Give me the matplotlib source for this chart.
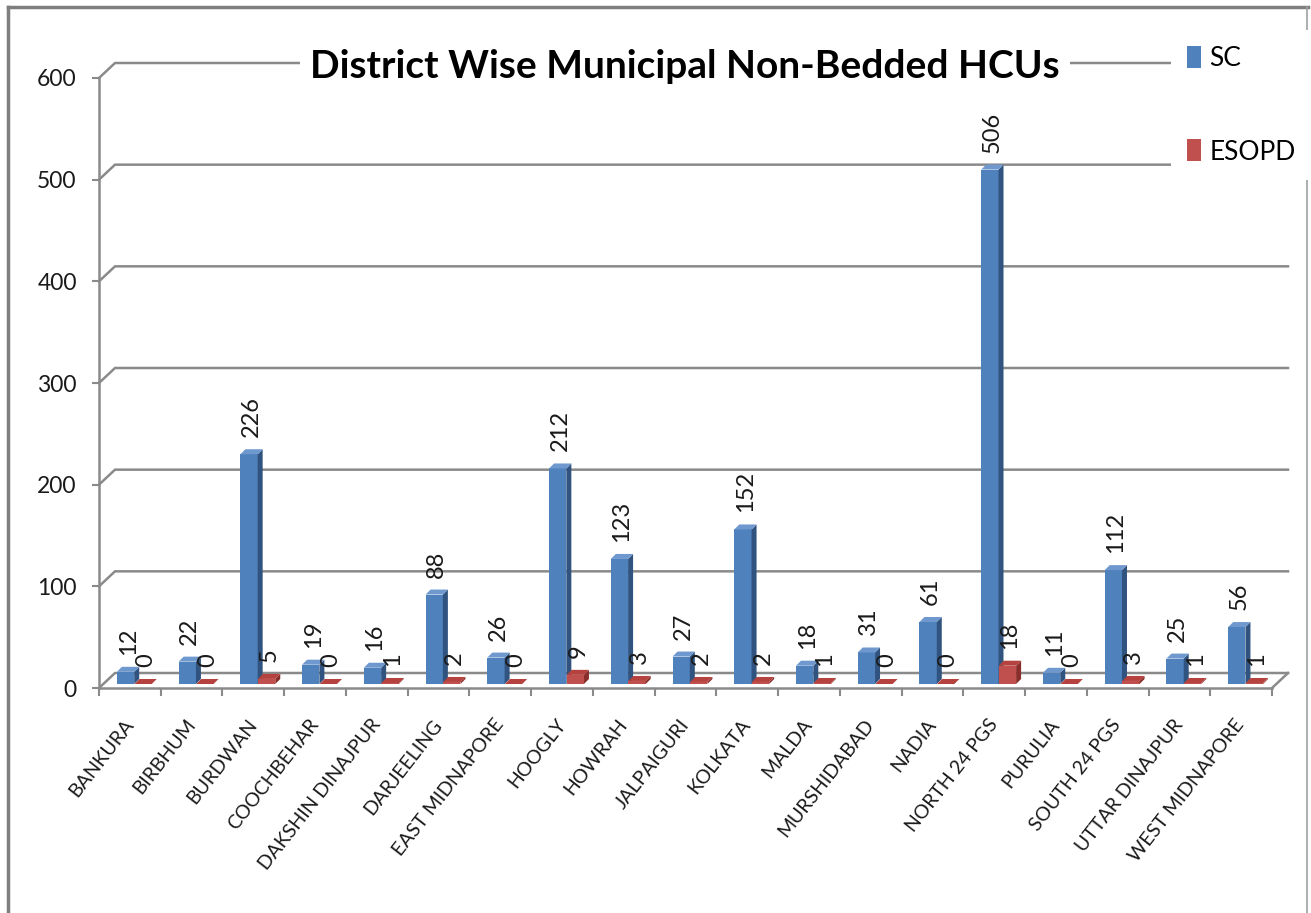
import numpy as np
import matplotlib
matplotlib.use("Agg")
import matplotlib.pyplot as plt
from matplotlib.patches import Polygon, Patch
from matplotlib.lines import Line2D

districts = ["BANKURA", "BIRBHUM", "BURDWAN", "COOCHBEHAR", "DAKSHIN DINAJPUR",
             "DARJEELING", "EAST MIDNAPORE", "HOOGLY", "HOWRAH", "JALPAIGURI",
             "KOLKATA", "MALDA", "MURSHIDABAD", "NADIA", "NORTH 24 PGS",
             "PURULIA", "SOUTH 24 PGS", "UTTAR DINAJPUR", "WEST MIDNAPORE"]
sc = [12, 22, 226, 19, 16, 88, 26, 212, 123, 27, 152, 18, 31, 61, 506, 11, 112, 25, 56]
esopd = [0, 0, 5, 0, 1, 2, 0, 9, 3, 2, 2, 1, 0, 0, 18, 0, 3, 1, 1]
yticks = [0, 100, 200, 300, 400, 500, 600]
title = "District Wise Municipal Non-Bedded HCUs"
series_names = ["SC", "ESOPD"]

FONT = ["Lato", "Liberation Sans", "DejaVu Sans"]

W, H = 1311, 913
fig = plt.figure(figsize=(W / 100, H / 100), dpi=100)
L, R, T, B = 99, 1272, 78, 688
ax = fig.add_axes([L / W, 1 - B / H, (R - L) / W, (B - T) / H])
n = len(districts)
ax.set_xlim(-0.5, n - 0.5)
ax.set_ylim(0, 600)
ax.patch.set_alpha(0)

pxx = (R - L) / n
pxy = (B - T) / 600
wall_dx, wall_dy = 16 / pxx, 15 / pxy
bar_dx, bar_dy = 5 / pxx, 5 / pxy
base = 4 / pxy

gray = "#8a8a8a"
# back wall gridlines with left-wall diagonals
for v in yticks:
    ax.plot([-0.5, -0.5 + wall_dx, n - 0.5 + wall_dx], [v, v + wall_dy, v + wall_dy],
            color=gray, lw=1.8, clip_on=False, zorder=1, solid_joinstyle="miter")
ax.plot([n - 0.5, n - 0.5 + wall_dx], [0, wall_dy], color=gray, lw=1.8, clip_on=False, zorder=1)

x = np.arange(n)
bw = 0.28
lefts = [x - 0.21, x + 0.075]
vals = [sc, esopd]
front = ["#4F81BD", "#C0504D"]
side = ["#31537F", "#8A2E2B"]
top = ["#6E98CE", "#B5423F"]

for s in range(2):
    zo = 3 + s
    ax.bar(lefts[s], vals[s], width=bw, bottom=base, align="edge",
           color=front[s], zorder=zo, clip_on=False, linewidth=0)
    for i in range(n):
        xl = lefts[s][i]
        xr = xl + bw
        h = vals[s][i]
        yt = base + h
        ax.add_patch(Polygon([(xr, base), (xr + bar_dx, base + bar_dy),
                              (xr + bar_dx, yt + bar_dy), (xr, yt)],
                             closed=True, facecolor=side[s], edgecolor="none",
                             zorder=zo, clip_on=False))
        ax.add_patch(Polygon([(xl, yt), (xr, yt), (xr + bar_dx, yt + bar_dy),
                              (xl + bar_dx, yt + bar_dy)],
                             closed=True, facecolor=top[s], edgecolor="none",
                             zorder=zo, clip_on=False))
        ax.annotate(str(h), xy=(xl + bw / 2 + bar_dx / 2, yt + bar_dy),
                    xytext=(0, 12), textcoords="offset pixels", rotation=90,
                    ha="center", va="bottom", fontsize=17, family=FONT,
                    color="#1a1a1a", zorder=6, annotation_clip=False)

# axes styling
for sp in ["top", "right"]:
    ax.spines[sp].set_visible(False)
for sp in ["left", "bottom"]:
    ax.spines[sp].set_color(gray)
    ax.spines[sp].set_linewidth(1.8)
    ax.spines[sp].set_zorder(2)

ax.set_yticks(yticks)
ax.set_yticklabels([str(v) for v in yticks], fontsize=16.5, family=FONT, color="#1a1a1a")
ax.tick_params(axis="y", length=5, width=1.5, color=gray, pad=11)

ax.set_xticks(x)
ax.set_xticklabels(districts, rotation=52, ha="right", va="center",
                   rotation_mode="anchor", fontsize=14, family=FONT, color="#1a1a1a")
ax.tick_params(axis="x", which="major", length=0, pad=24)
ax.set_xticks(np.arange(n + 1) - 0.5, minor=True)
ax.tick_params(axis="x", which="minor", length=6, width=1.5, color=gray, direction="out")

# title
fig.text(685 / W, 1 - 67 / H, title, ha="center", va="center", fontsize=28,
         fontweight="bold", family=FONT, color="black", zorder=5,
         bbox=dict(facecolor="white", edgecolor="none", pad=7))

# legend
handles = [Patch(facecolor=front[0]), Patch(facecolor=front[1])]
leg = fig.legend(handles, series_names, loc="upper left",
                 bbox_to_anchor=(1171 / W, 1 - 30 / H), frameon=True, fancybox=False,
                 prop={"family": FONT, "size": 19}, handlelength=0.55, handleheight=0.9,
                 handletextpad=0.3, labelspacing=2.6, borderpad=0.6, borderaxespad=0)
leg.get_frame().set_edgecolor("none")
leg.get_frame().set_facecolor("white")
leg.get_frame().set_alpha(1)

# outer frame
fig.add_artist(Line2D([8 / W, 8 / W], [0, 1 - 7 / H], transform=fig.transFigure,
                      color="#7f7f7f", lw=2.5))
fig.add_artist(Line2D([8 / W, 1308 / W], [1 - 7 / H, 1 - 7 / H], transform=fig.transFigure,
                      color="#7f7f7f", lw=2.5))
fig.add_artist(Line2D([1307 / W, 1307 / W], [0, 1 - 7 / H], transform=fig.transFigure,
                      color="#a0a0a0", lw=1.2))

fig.savefig("out.png", dpi=100)
